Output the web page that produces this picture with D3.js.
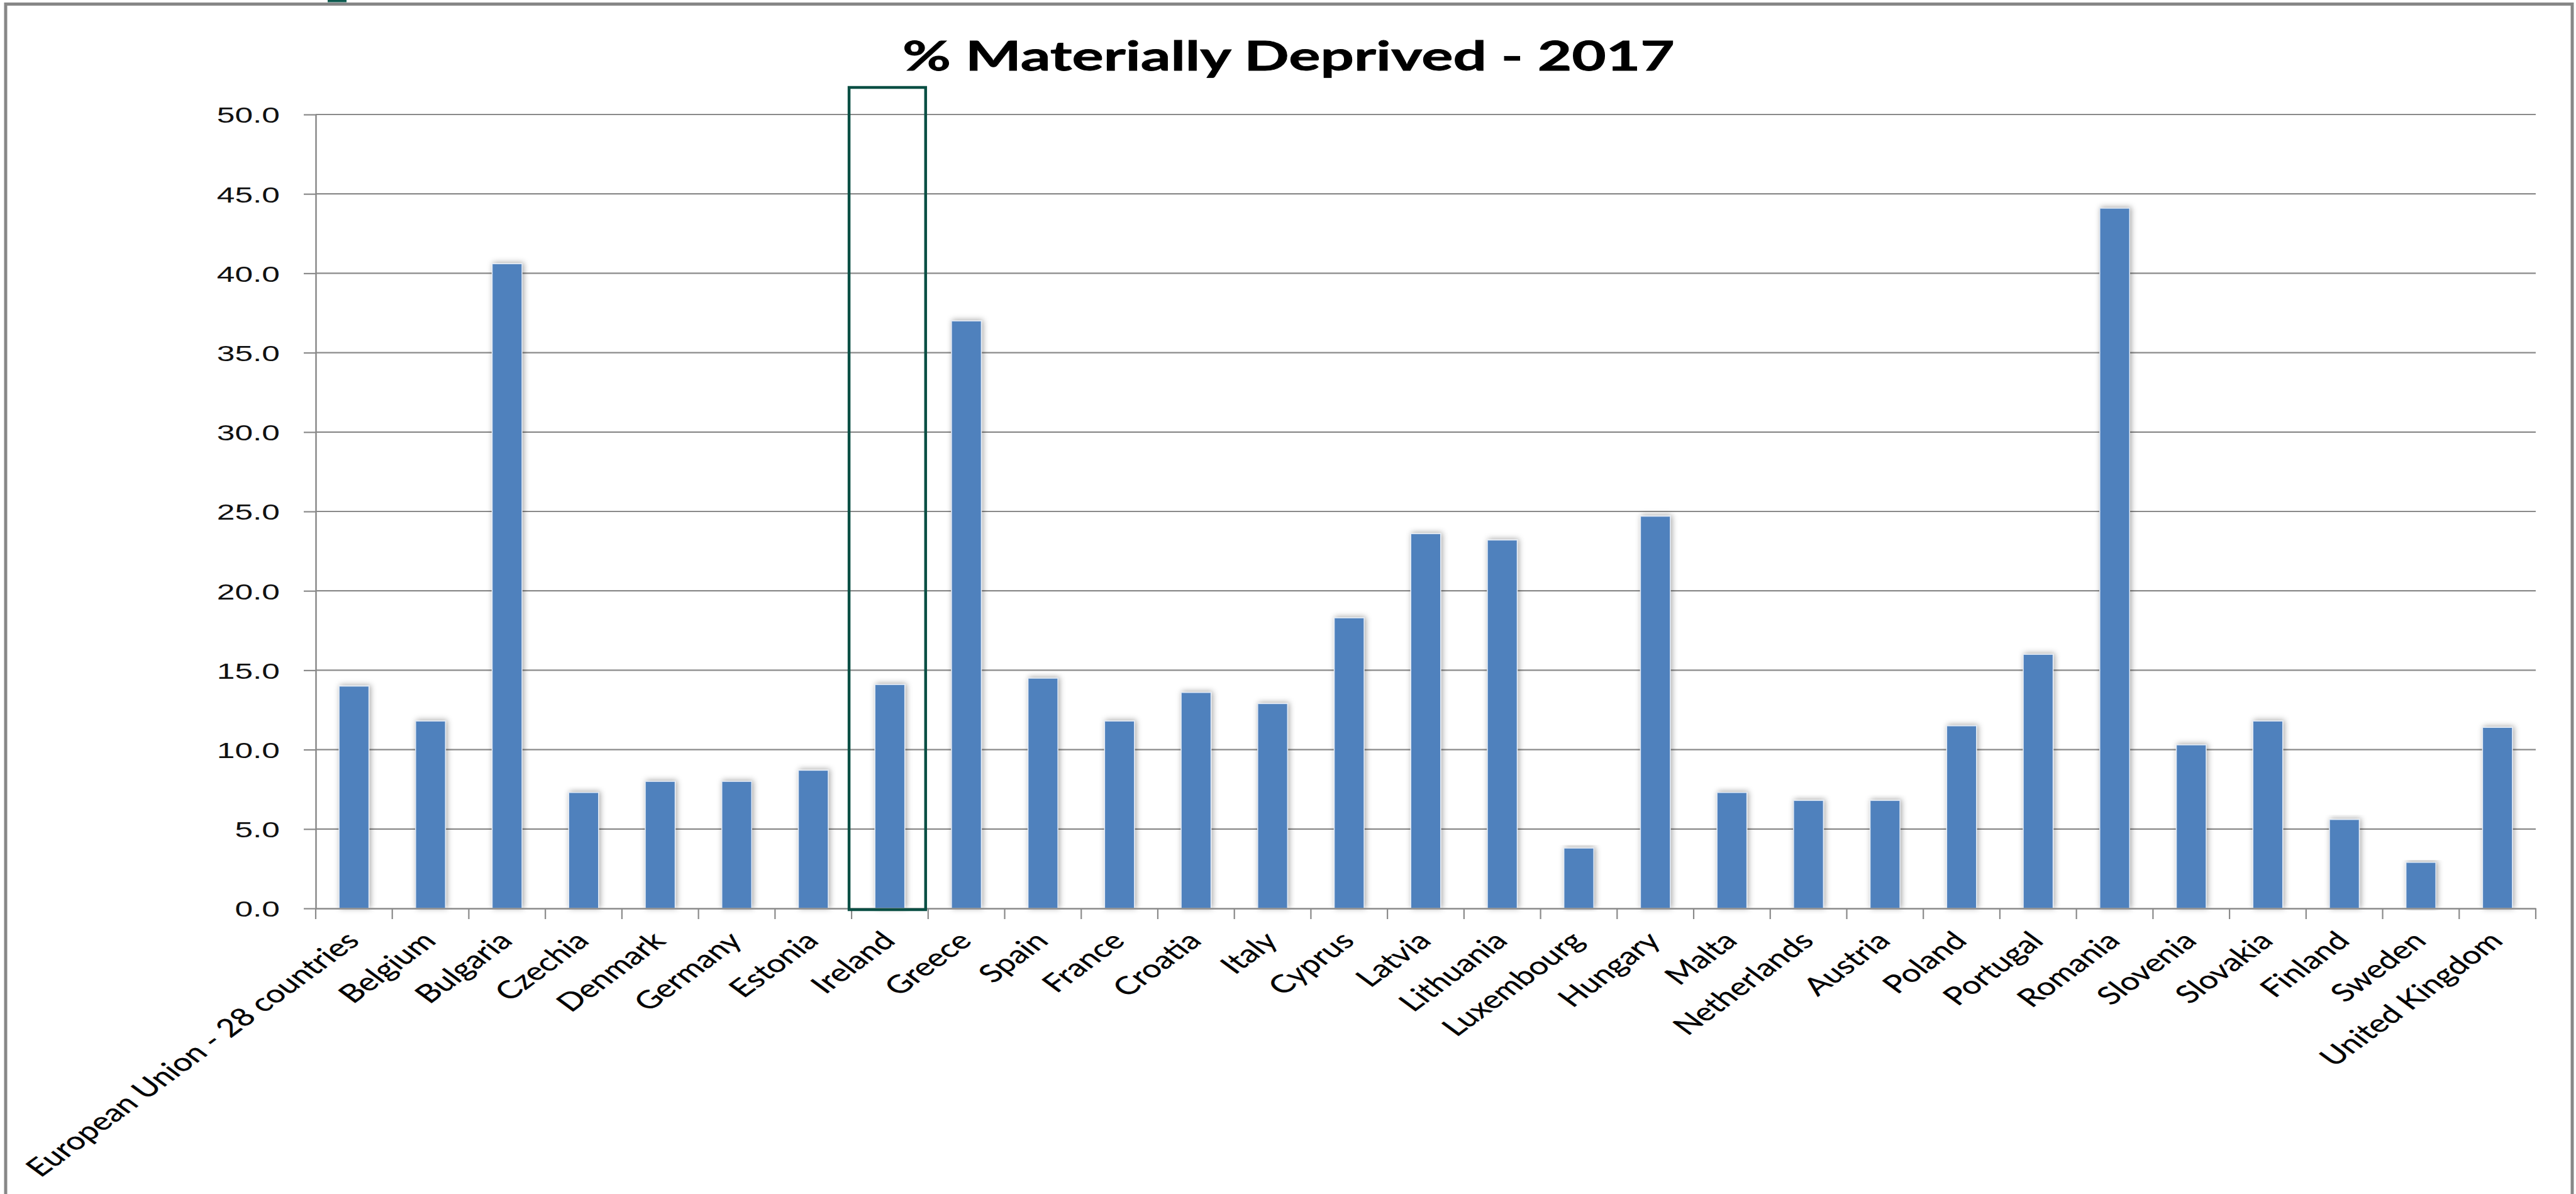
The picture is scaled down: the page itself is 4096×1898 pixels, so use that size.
<!DOCTYPE html>
<html>
<head>
<meta charset="utf-8">
<script src="https://cdn.jsdelivr.net/npm/d3@7"></script>
<style>
  html, body { margin: 0; padding: 0; background: #ffffff; overflow: hidden; }
</style>
</head>
<body>
<svg id="chart" width="4096" height="1898"></svg>
<script>
// ---- data ----
const chartTitle = "% Materially Deprived - 2017";
const categories = [
  "European Union - 28 countries", "Belgium", "Bulgaria", "Czechia", "Denmark",
  "Germany", "Estonia", "Ireland", "Greece", "Spain", "France", "Croatia", "Italy",
  "Cyprus", "Latvia", "Lithuania", "Luxembourg", "Hungary", "Malta", "Netherlands",
  "Austria", "Poland", "Portugal", "Romania", "Slovenia", "Slovakia", "Finland",
  "Sweden", "United Kingdom"
];
const values = [
  14.0, 11.8, 40.6, 7.3, 8.0,
  8.0, 8.7, 14.1, 37.0, 14.5, 11.8, 13.6, 12.9,
  18.3, 23.6, 23.2, 3.8, 24.7, 7.3, 6.8,
  6.8, 11.5, 16.0, 44.1, 10.3, 11.8, 5.6,
  2.9, 11.4
];
const yTicks = [0, 5, 10, 15, 20, 25, 30, 35, 40, 45, 50];
const highlighted = "Ireland";

// ---- layout ----
const plotLeft = 502, plotRight = 4032, plotTop = 182, plotBottom = 1444;
const textStretch = 1.43;          // horizontal stretch of title and value labels
const labelStretch = 1.36;         // horizontal stretch of the rotated category labels
const gridColor = "#8a8a8a";
const barColor = "#4f81bd";

const svg = d3.select("#chart");

const x = d3.scaleBand().domain(categories).range([plotLeft, plotRight]).paddingInner(0).paddingOuter(0);
const y = d3.scaleLinear().domain([yTicks[0], yTicks[yTicks.length - 1]]).range([plotBottom, plotTop]);

// soft shadow behind the columns
const defs = svg.append("defs");
const shadow = defs.append("filter").attr("id", "barShadow")
  .attr("x", "-60%").attr("y", "-5%").attr("width", "220%").attr("height", "110%");
shadow.append("feDropShadow")
  .attr("dx", 2).attr("dy", -1).attr("stdDeviation", 5)
  .attr("flood-color", "#000").attr("flood-opacity", 0.36);

// outer frame of the chart area
svg.append("rect")
  .attr("x", 9).attr("y", 6.5).attr("width", 4081).attr("height", 2400)
  .attr("fill", "#fff").attr("stroke", "#878787").attr("stroke-width", 5);

// small teal tab peeking above the frame
svg.append("rect").attr("x", 521).attr("y", 0).attr("width", 30).attr("height", 3.5).attr("fill", "#0b5a4e");

// title
const titleText = svg.append("text")
  .text(chartTitle)
  .attr("font-family", "Lato, 'Open Sans', sans-serif")
  .attr("font-weight", 700)
  .attr("font-size", 64)
  .attr("fill", "#000")
  .attr("stroke", "#000").attr("stroke-width", 0.8)
  .attr("text-anchor", "middle");
const titleLen = titleText.node().getComputedTextLength();
const titleSize = 64 * (1228 / textStretch) / titleLen;
titleText.attr("font-size", titleSize)
  .attr("transform", `translate(2049,112) scale(${textStretch},1)`);

// horizontal gridlines
svg.append("g").selectAll("line")
  .data(yTicks.filter(t => t > 0))
  .join("line")
  .attr("x1", plotLeft).attr("x2", plotRight)
  .attr("y1", d => y(d)).attr("y2", d => y(d))
  .attr("stroke", gridColor).attr("stroke-width", 2.2);

// columns
const barW = x.bandwidth() * 0.39;
svg.append("g").selectAll("rect")
  .data(values)
  .join("rect")
  .attr("x", (d, i) => x(categories[i]) + (x.bandwidth() - barW) / 2)
  .attr("y", d => y(d))
  .attr("width", barW)
  .attr("height", d => y(0) - y(d))
  .attr("fill", barColor)
  .attr("stroke", "#e1e9f4")
  .attr("stroke-width", 1.5)
  .attr("filter", "url(#barShadow)");

// y axis
const yAxis = d3.axisLeft(y).tickValues(yTicks).tickFormat(d3.format(".1f")).tickSize(19).tickSizeOuter(0);
const gy = svg.append("g").attr("transform", `translate(${plotLeft},0)`).call(yAxis);
gy.select(".domain").attr("stroke", gridColor).attr("stroke-width", 2.5);
gy.selectAll(".tick line").attr("stroke", gridColor).attr("stroke-width", 2.2);
gy.selectAll(".tick text")
  .attr("x", 0).attr("dy", "0.36em")
  .attr("text-anchor", "end")
  .attr("font-family", "'Liberation Sans', Arial, sans-serif")
  .attr("font-size", 36)
  .attr("fill", "#111")
  .attr("transform", `translate(-57,0) scale(${textStretch},1)`);

// x axis: line + rotated category labels
const xAxis = d3.axisBottom(x).tickSize(0).tickSizeOuter(0).tickPadding(0);
const gx = svg.append("g").attr("transform", `translate(0,${plotBottom})`).call(xAxis);
gx.select(".domain").attr("stroke", gridColor).attr("stroke-width", 2.5);
const xLabels = gx.selectAll(".tick text")
  .attr("y", 0).attr("dy", 0)
  .attr("text-anchor", "end")
  .attr("font-family", "Lato, 'Open Sans', sans-serif")
  .attr("font-size", 40)
  .attr("fill", "#000")
  .attr("stroke", "#000").attr("stroke-width", 0.3);
const refLen = xLabels.filter(d => d === categories[0]).node().getComputedTextLength();
const labelSize = 40 * 530 / refLen;
xLabels.attr("font-size", labelSize)
  .attr("transform", `translate(11,54) scale(${labelStretch},1) rotate(-45)`);

// tick marks between categories
const boundaries = categories.map(c => x(c)).concat([x.range()[1]]);
gx.append("g").selectAll("line")
  .data(boundaries)
  .join("line")
  .attr("x1", d => d).attr("x2", d => d)
  .attr("y1", 0).attr("y2", 17)
  .attr("stroke", gridColor).attr("stroke-width", 2.2);

// outline around the highlighted country
const hx = x(highlighted) - 4;
svg.append("rect")
  .attr("x", hx).attr("y", y(yTicks[yTicks.length - 1]) - 43)
  .attr("width", x.bandwidth())
  .attr("height", plotBottom + 2 - (y(yTicks[yTicks.length - 1]) - 43))
  .attr("fill", "none")
  .attr("stroke", "#0a4f44")
  .attr("stroke-width", 4.5);
</script>
</body>
</html>
